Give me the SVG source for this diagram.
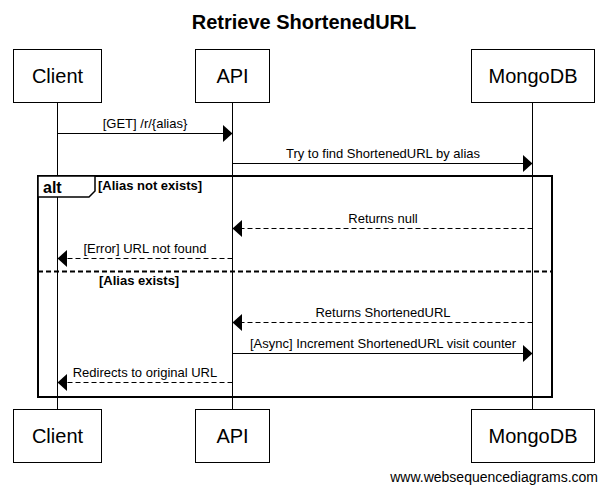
<svg xmlns="http://www.w3.org/2000/svg" width="608" height="493" viewBox="0 0 608 493">
<defs>
<style>
.box{fill:#fff;stroke:#000;stroke-width:1}
.life{stroke:#000;stroke-width:1}
.pt{font-family:"Liberation Sans",Arial,sans-serif;font-size:20px;text-anchor:middle;fill:#000}
.msg{stroke:#000;stroke-width:1;fill:none}
.dash{stroke-dasharray:5,3}
.ml{font-family:"Liberation Sans",Arial,sans-serif;font-size:13px;text-anchor:middle;fill:#000}
.bl{font-family:"Liberation Sans",Arial,sans-serif;font-size:13px;font-weight:bold;fill:#000}
.head{fill:#000;stroke:none}
</style>
</defs>
<rect width="608" height="493" fill="#fff"/>
<text x="304" y="29" font-family="'Liberation Sans',Arial,sans-serif" font-size="20" font-weight="bold" text-anchor="middle">Retrieve ShortenedURL</text>

<g id="lifelines">
<line class="life" x1="57.5" y1="102" x2="57.5" y2="409"/>
<line class="life" x1="232.5" y1="102" x2="232.5" y2="409"/>
<line class="life" x1="532.5" y1="102" x2="532.5" y2="409"/>
</g>

<g id="client">
<rect class="box" x="13.5" y="49.5" width="88" height="53"/>
<text class="pt" x="57.5" y="83">Client</text>
<rect class="box" x="13.5" y="409.5" width="88" height="53"/>
<text class="pt" x="57.5" y="443">Client</text>
</g>
<g id="api">
<rect class="box" x="195.5" y="49.5" width="74" height="53"/>
<text class="pt" x="232.5" y="83">API</text>
<rect class="box" x="195.5" y="409.5" width="74" height="53"/>
<text class="pt" x="232.5" y="443">API</text>
</g>
<g id="mongodb">
<rect class="box" x="471.5" y="49.5" width="123" height="53"/>
<text class="pt" x="533" y="83">MongoDB</text>
<rect class="box" x="471.5" y="409.5" width="123" height="53"/>
<text class="pt" x="533" y="443">MongoDB</text>
</g>

<g id="alt">
<rect x="38" y="176" width="514" height="221" fill="none" stroke="#000" stroke-width="2"/>
<path d="M38 176 H95 V191 L89 197 H38 Z" fill="#fff" stroke="#000" stroke-width="1.5"/>
<text x="43" y="193" font-family="'Liberation Sans',Arial,sans-serif" font-size="16" font-weight="bold">alt</text>
<text class="bl" x="98" y="190">[Alias not exists]</text>
<line x1="38" y1="271.5" x2="552" y2="271.5" stroke="#000" stroke-width="2" stroke-dasharray="5,3"/>
<text class="bl" x="99" y="285">[Alias exists]</text>
</g>

<g id="connectors">
<line class="msg" x1="57.5" y1="133.5" x2="224" y2="133.5"/>
<polygon class="head" points="232.5,133.5 223,125 223,142"/>
<text class="ml" x="145" y="128">[GET] /r/{alias}</text>

<line class="msg" x1="232.5" y1="163.5" x2="524" y2="163.5"/>
<polygon class="head" points="532.5,163.5 523,155 523,172"/>
<text class="ml" x="383" y="158">Try to find ShortenedURL by alias</text>

<line class="msg dash" x1="532.5" y1="228.5" x2="241" y2="228.5"/>
<polygon class="head" points="232.5,228.5 242,220 242,237"/>
<text class="ml" x="383" y="223">Returns null</text>

<line class="msg dash" x1="232.5" y1="258.5" x2="66" y2="258.5"/>
<polygon class="head" points="57.5,258.5 67,250 67,267"/>
<text class="ml" x="145" y="253">[Error] URL not found</text>

<line class="msg dash" x1="532.5" y1="322.5" x2="241" y2="322.5"/>
<polygon class="head" points="232.5,322.5 242,314 242,331"/>
<text class="ml" x="383" y="317">Returns ShortenedURL</text>

<line class="msg" x1="232.5" y1="353.5" x2="524" y2="353.5"/>
<polygon class="head" points="532.5,353.5 523,345 523,362"/>
<text class="ml" x="383" y="348">[Async] Increment ShortenedURL visit counter</text>

<line class="msg dash" x1="232.5" y1="382.5" x2="66" y2="382.5"/>
<polygon class="head" points="57.5,382.5 67,374 67,391"/>
<text class="ml" x="145" y="377">Redirects to original URL</text>
</g>

<text x="598" y="482" font-family="'Liberation Sans',Arial,sans-serif" font-size="14" text-anchor="end">www.websequencediagrams.com</text>
</svg>
